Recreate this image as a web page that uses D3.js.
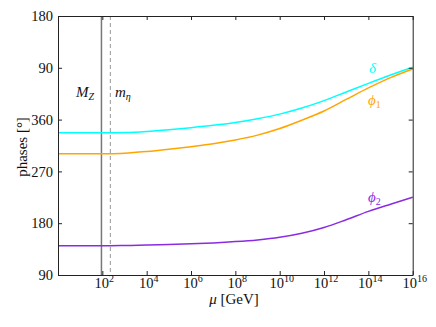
<!DOCTYPE html>
<html>
<head>
<meta charset="utf-8">
<script src="https://cdn.jsdelivr.net/npm/d3@7"></script>
<style>
  body { margin: 0; background: #fff; }
  svg text { font-family: 'Liberation Serif', 'DejaVu Serif', serif; fill: #111; }
</style>
</head>
<body>
<div id="chart"></div>
<script>
var muExp = [0, 1, 2, 2.36, 3, 4, 5, 6, 7, 8, 9, 10, 11, 12, 13, 14, 15, 16];
// phases in degrees, unwrapped (values above 360 are shown mod 360)
var delta = [337, 337, 337, 337, 337.5, 339.5, 342.5, 346, 350, 355, 361.5, 369.5, 380, 393, 408, 423, 437.5, 451];
var phi1  = [300.7, 300.7, 300.7, 300.7, 301.5, 304.5, 308.5, 313, 318, 324.5, 333, 344.5, 359, 375, 395, 415, 433, 448];
var phi2  = [141, 141, 141, 141, 141.3, 142, 143, 144.2, 145.8, 148, 151, 155.5, 162.5, 172.5, 186, 200.5, 213, 225];

var yTicks = [90, 180, 270, 360, 450, 540];
var xTickExps = [2, 4, 6, 8, 10, 12, 14, 16];
var MZ = 91.19;
var mEta = 230;

var seriesNames = ['delta', 'phi1', 'phi2'];
var seriesColors = ['#00ffff', '#ffa500', '#8a2be2'];

var W = 436, H = 327;
var plotL = 58, plotR = 412.7, plotT = 16, plotB = 275;

var svg = d3.select('#chart').append('svg')
  .attr('width', W)
  .attr('height', H);

var x = d3.scaleLog().domain([1, 1e16]).range([plotL, plotR]);
var y = d3.scaleLinear().domain([90, 540]).range([plotB, plotT]);

var series = [delta, phi1, phi2].map(function(vals, i) {
  return {
    name: seriesNames[i],
    color: seriesColors[i],
    points: muExp.map(function(e, j) { return { mu: Math.pow(10, e), v: vals[j] }; })
  };
});

// vertical reference lines
svg.append('line')
  .attr('x1', x(MZ)).attr('x2', x(MZ))
  .attr('y1', plotT).attr('y2', plotB)
  .style('stroke', '#777').style('stroke-width', 1.5);
svg.append('line')
  .attr('x1', x(mEta)).attr('x2', x(mEta))
  .attr('y1', plotT).attr('y2', plotB)
  .style('stroke', '#999').style('stroke-width', 1)
  .style('stroke-dasharray', '4,3');

var line = d3.line()
  .x(function(d) { return x(d.mu); })
  .y(function(d) { return y(d.v); })
  .curve(d3.curveMonotoneX);

svg.selectAll('.series')
  .data(series)
  .enter()
  .append('path')
  .attr('class', 'series')
  .attr('d', function(d) { return line(d.points); })
  .style('fill', 'none')
  .style('stroke', function(d) { return d.color; })
  .style('stroke-width', 1.5);

// axes: inward ticks on all four sides
var fmtY = function(v) { return v > 360 ? v - 360 : v; };
var xTickVals = xTickExps.map(function(e) { return Math.pow(10, e); });

var gLeft = svg.append('g').attr('transform', 'translate(' + plotL + ',0)')
  .call(d3.axisLeft(y).tickValues(yTicks).tickFormat(fmtY).tickSizeInner(-4).tickSizeOuter(0).tickPadding(5));
var gRight = svg.append('g').attr('transform', 'translate(' + plotR + ',0)')
  .call(d3.axisRight(y).tickValues(yTicks).tickFormat('').tickSizeInner(-4).tickSizeOuter(0));
var gBottom = svg.append('g').attr('transform', 'translate(0,' + plotB + ')')
  .call(d3.axisBottom(x).tickValues(xTickVals).tickFormat('').tickSizeInner(-4).tickSizeOuter(0));
var gTop = svg.append('g').attr('transform', 'translate(0,' + plotT + ')')
  .call(d3.axisTop(x).tickValues(xTickVals).tickFormat('').tickSizeInner(-4).tickSizeOuter(0));

[gLeft, gRight, gBottom, gTop].forEach(function(g) {
  g.select('.domain').style('stroke', '#222').style('stroke-width', 1);
  g.selectAll('.tick line').style('stroke', '#222');
});
gLeft.selectAll('.tick text')
  .style('font-size', '14.5px')
  .style('font-family', "'Liberation Serif', serif")
  .attr('fill', '#111');

// x tick labels as 10^n
var xl = svg.append('g').selectAll('.xlab')
  .data(xTickExps)
  .enter()
  .append('text')
  .attr('class', 'xlab')
  .attr('x', function(e) { return x(Math.pow(10, e)) + 2; })
  .attr('y', 288)
  .attr('text-anchor', 'middle')
  .style('font-size', '14.5px');
xl.append('tspan').text('10');
xl.append('tspan').attr('dy', -6).style('font-size', '10px').text(function(e) { return e; });

// axis titles
svg.append('text')
  .attr('x', 234).attr('y', 304)
  .attr('text-anchor', 'middle')
  .style('font-size', '15px')
  .html('<tspan font-style="italic">μ</tspan> [GeV]');
svg.append('text')
  .attr('transform', 'translate(27,147) rotate(-90)')
  .attr('text-anchor', 'middle')
  .style('font-size', '15px')
  .text('phases [°]');

// scale labels
var mz = svg.append('text').attr('x', 76).attr('y', 97).style('font-size', '15px').style('font-style', 'italic');
mz.append('tspan').text('M');
mz.append('tspan').attr('dy', 3).style('font-size', '10px').text('Z');
var me = svg.append('text').attr('x', 115).attr('y', 97).style('font-size', '15px').style('font-style', 'italic');
me.append('tspan').text('m');
me.append('tspan').attr('dy', 3).style('font-size', '10px').text('η');

// series labels
var labelPos = [[369, 73], [368, 105], [368, 202]];
var labelText = [['δ', ''], ['ϕ', '1'], ['ϕ', '2']];
series.forEach(function(s, i) {
  var t = svg.append('text')
    .attr('x', labelPos[i][0]).attr('y', labelPos[i][1])
    .style('font-size', '15px').style('font-style', 'italic')
    .style('fill', s.color);
  t.append('tspan').text(labelText[i][0]);
  if (labelText[i][1]) {
    t.append('tspan').attr('dy', 3).style('font-size', '10px').style('font-style', 'normal').text(labelText[i][1]);
  }
});
</script>
</body>
</html>
